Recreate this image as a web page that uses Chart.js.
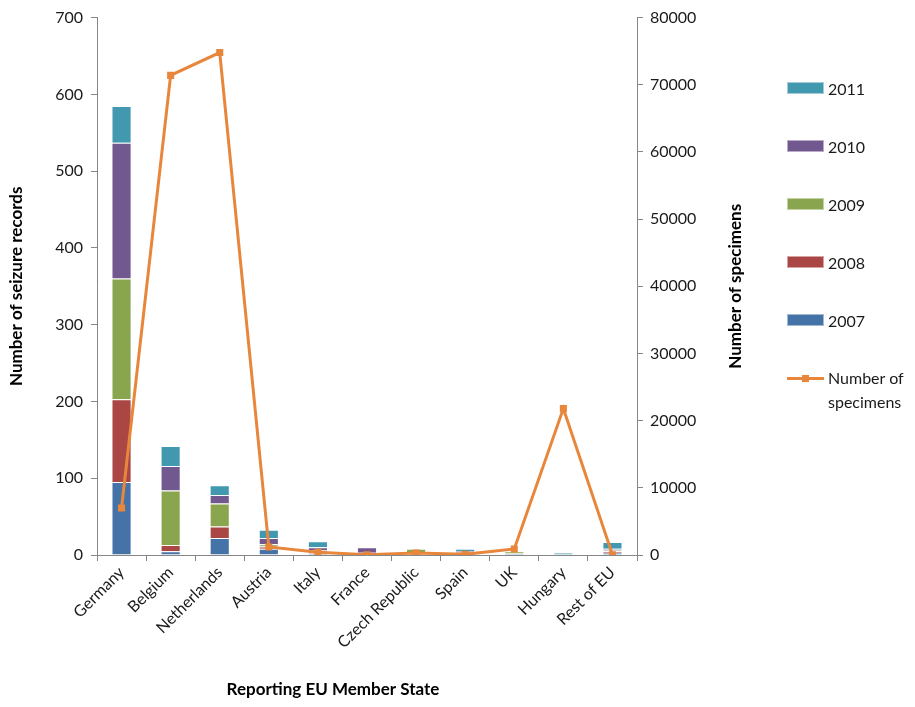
<!DOCTYPE html>
<html>
<head>
<meta charset="utf-8">
<title>Seizure records by reporting EU Member State</title>
<script src="https://cdn.jsdelivr.net/npm/chart.js@4.4.0/dist/chart.umd.min.js"></script>
<style>
  body { margin: 0; background: #fff; }
  #wrap { position: relative; width: 915px; height: 707px; }
  #legend { position: absolute; left: 787px; top: 0; font-family: Lato, sans-serif; font-size: 16px; color: #1a1a1a; }
  .item { position: absolute; left: 0; display: flex; align-items: flex-start; white-space: nowrap; }
  .swatch { width: 37px; height: 12px; margin-right: 4px; box-sizing: border-box; border: 1px solid rgba(255,255,255,0.5); }
  .lineKey { position: relative; width: 37px; height: 12px; margin-right: 4px; }
  .lineKey i { position: absolute; left: 0; right: 0; top: 5px; height: 3px; }
  .lineKey b { position: absolute; left: 15px; top: 3px; width: 7px; height: 7px; }
</style>
</head>
<body>
<div id="wrap">
  <canvas id="chart" width="915" height="707"></canvas>
  <div id="legend"></div>
</div>
<script>
const countries = ['Germany', 'Belgium', 'Netherlands', 'Austria', 'Italy', 'France',
  'Czech Republic', 'Spain', 'UK', 'Hungary', 'Rest of EU']

// seizure records per year, stacked
const rec2007 = [95, 5, 22, 8, 2, 1, 1, 3, 2, 0, 3]
const rec2008 = [108, 8, 15, 3, 1, 2, 3, 1, 0, 0, 2]
const rec2009 = [157, 71, 30, 3, 3, 0, 4, 0, 3, 0, 1]
const rec2010 = [177, 32, 11, 8, 4, 7, 0, 1, 0, 0, 2]
const rec2011 = [48, 26, 13, 11, 8, 0, 0, 3, 0, 3, 9]

// specimens on the right axis
const specimens = [7000, 71400, 74800, 1200, 400, 50, 300, 100, 900, 21800, 50]

const recordTicks = [0, 100, 200, 300, 400, 500, 600, 700]
const specimenTicks = [0, 10000, 20000, 30000, 40000, 50000, 60000, 70000, 80000]

const yearColors = {
  2007: '#4572A7',
  2008: '#AA4643',
  2009: '#89A54E',
  2010: '#71588F',
  2011: '#4198AF',
}
const lineColor = '#E8863B'
const axisColor = '#868686'

Chart.defaults.font.family = 'Lato, sans-serif'
Chart.defaults.font.size = 16
Chart.defaults.color = '#1a1a1a'

function barSet(label, data) {
  return {
    type: 'bar',
    label,
    data,
    backgroundColor: yearColors[label],
    borderColor: 'rgba(255,255,255,0.35)',
    borderWidth: 1,
    barPercentage: 0.41,
    categoryPercentage: 1,
    yAxisID: 'y',
    order: 1,
  }
}

// axis titles: the right one reads bottom-to-top like the left one
const axisTitles = {
  id: 'axisTitles',
  afterDraw(chart) {
    const { ctx, chartArea } = chart
    const midY = (chartArea.top + chartArea.bottom) / 2
    ctx.save()
    ctx.fillStyle = '#000'
    ctx.font = 'bold 17px Lato, sans-serif'
    ctx.textAlign = 'center'
    ctx.textBaseline = 'middle'
    ctx.fillText('Reporting EU Member State', 333, 690)
    ;[[17, 'Number of seizure records'], [736, 'Number of specimens']].forEach(([x, text]) => {
      ctx.save()
      ctx.translate(x, midY)
      ctx.rotate(-Math.PI / 2)
      ctx.fillText(text, 0, 0)
      ctx.restore()
    })
    ctx.restore()
  },
}

const axisGrid = {
  display: true,
  drawOnChartArea: false,
  drawTicks: true,
  tickLength: 6,
  color: axisColor,
}

const chart = new Chart(document.getElementById('chart'), {
  data: {
    labels: countries,
    datasets: [
      {
        type: 'line',
        label: 'Number of specimens',
        data: specimens,
        borderColor: lineColor,
        backgroundColor: lineColor,
        borderWidth: 3,
        pointStyle: 'rect',
        pointRadius: 5,
        pointBorderWidth: 0,
        tension: 0,
        yAxisID: 'y2',
        order: 0,
      },
      barSet(2007, rec2007),
      barSet(2008, rec2008),
      barSet(2009, rec2009),
      barSet(2010, rec2010),
      barSet(2011, rec2011),
    ],
  },
  options: {
    responsive: false,
    animation: false,
    layout: { padding: { top: 13, right: 0, bottom: 0, left: 0 } },
    plugins: {
      legend: { display: false },
      tooltip: { enabled: false },
    },
    scales: {
      x: {
        stacked: true,
        grid: axisGrid,
        border: { color: axisColor },
        ticks: { minRotation: 45, maxRotation: 45, padding: 2, color: '#1a1a1a' },
        afterFit: (scale) => { scale.height = 152 },
      },
      y: {
        position: 'left',
        stacked: true,
        min: 0,
        max: 700,
        afterBuildTicks: (scale) => { scale.ticks = recordTicks.map((value) => ({ value })) },
        grid: axisGrid,
        border: { color: axisColor },
        ticks: { padding: 8 },
        afterFit: (scale) => { scale.width = 97 },
      },
      y2: {
        position: 'right',
        min: 0,
        max: 80000,
        afterBuildTicks: (scale) => { scale.ticks = specimenTicks.map((value) => ({ value })) },
        grid: axisGrid,
        border: { color: axisColor },
        ticks: { padding: 7, callback: (value) => String(value) },
        afterFit: (scale) => { scale.width = 278 },
      },
    },
  },
  plugins: [axisTitles],
})

// legend: years top-down from 2011, then the line series
const legend = document.getElementById('legend')
const legendRows = [
  { year: 2011, y: 82 },
  { year: 2010, y: 140 },
  { year: 2009, y: 198 },
  { year: 2008, y: 256 },
  { year: 2007, y: 314 },
]
legendRows.forEach(({ year, y }) => {
  const row = document.createElement('div')
  row.className = 'item'
  row.style.top = `${y - 3}px`
  row.innerHTML = `<span class="swatch" style="background:${yearColors[year]};margin-top:3px"></span><span>${year}</span>`
  legend.appendChild(row)
})
const lineRow = document.createElement('div')
lineRow.className = 'item'
lineRow.style.top = '368px'
lineRow.innerHTML = `<span class="lineKey" style="margin-top:4px"><i style="background:${lineColor}"></i><b style="background:${lineColor}"></b></span>` +
  '<span style="line-height:24px;margin-top:-2px">Number of<br>specimens</span>'
legend.appendChild(lineRow)
</script>
</body>
</html>
